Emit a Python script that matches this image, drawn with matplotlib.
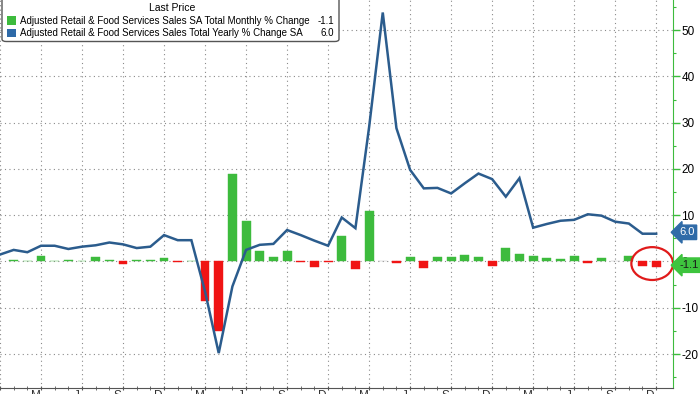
import numpy as np
import matplotlib.pyplot as plt
from matplotlib.patches import Ellipse, FancyBboxPatch, Rectangle
from matplotlib.transforms import ScaledTranslation

# monthly data, Dec 2018 .. Dec 2022
months = ["Dec 18",
          "Jan 19", "Feb 19", "Mar 19", "Apr 19", "May 19", "Jun 19",
          "Jul 19", "Aug 19", "Sep 19", "Oct 19", "Nov 19", "Dec 19",
          "Jan 20", "Feb 20", "Mar 20", "Apr 20", "May 20", "Jun 20",
          "Jul 20", "Aug 20", "Sep 20", "Oct 20", "Nov 20", "Dec 20",
          "Jan 21", "Feb 21", "Mar 21", "Apr 21", "May 21", "Jun 21",
          "Jul 21", "Aug 21", "Sep 21", "Oct 21", "Nov 21", "Dec 21",
          "Jan 22", "Feb 22", "Mar 22", "Apr 22", "May 22", "Jun 22",
          "Jul 22", "Aug 22", "Sep 22", "Oct 22", "Nov 22", "Dec 22"]

# monthly % change, Jan 2019 .. Dec 2022
mom = [0.3, 0.2, 1.2, 0.1, 0.4, 0.1, 0.9, 0.4, -0.5, 0.3, 0.3, 0.7,
       -0.2, 0.1, -8.5, -15.0, 18.9, 8.8, 2.3, 1.0, 2.3, -0.2, -1.1, -0.2,
       5.5, -1.6, 11.0, 0.0, -0.4, 0.9, -1.4, 1.0, 1.0, 1.5, 0.9, -1.0,
       3.0, 1.6, 1.2, 0.8, 0.5, 1.1, -0.3, 0.7, 0.0, 1.2, -1.0, -1.1]

# yearly % change, Dec 2018 .. Dec 2022
yoy = [1.5,
       2.5, 2.0, 3.4, 3.4, 2.7, 3.2, 3.5, 4.1, 3.7, 2.9, 3.2, 5.7,
       4.6, 4.6, -6.5, -19.8, -5.4, 2.5, 3.6, 3.8, 6.8, 5.7, 4.5, 3.4,
       9.5, 7.2, 29.0, 53.8, 28.8, 19.8, 15.8, 15.9, 14.7, 16.9, 19.0, 17.8,
       14.0, 18.0, 7.3, 8.1, 8.8, 9.0, 10.2, 9.9, 8.6, 8.2, 6.0, 6.0]

yticks = [-20, -10, 0, 10, 20, 30, 40, 50]
qtr_letters = {"Mar": "M", "Jun": "J", "Sep": "S", "Dec": "D"}

GREEN = "#3dbb3d"
RED = "#f01414"
BLUE = "#2b5c8d"

plt.rcParams['font.family'] = ['Liberation Sans', 'DejaVu Sans']

fig = plt.figure(figsize=(7, 3.94), dpi=100)
ax = fig.add_axes([0.0, 0.0145, 0.9614, 0.9855])

x = np.arange(len(months))
xb = x[1:]
cols = [GREEN if v > 0 else (RED if v < 0 else "#bbbbbb") for v in mom]
ax.bar(xb, mom, width=0.65, color=cols, edgecolor=cols, linewidth=0.3, zorder=3)
ax.plot(x, yoy, color=BLUE, lw=1.8, zorder=4, solid_joinstyle="miter")

ax.set_xlim(0.36, 49.23)
ax.set_ylim(-27.4, 56.5)

# quarterly grid + letters
qpos = [i for i, m in enumerate(months) if m[:3] in qtr_letters]
ax.set_xticks(qpos)
ax.set_xticklabels([qtr_letters[months[i][:3]] for i in qpos], fontsize=8.5, color="#333333")
ax.set_xticks(x, minor=True)
ax.tick_params(axis="x", which="both", length=3, direction="inout", pad=0, color="#555555")
shift = ScaledTranslation(-4 / 72, 0, fig.dpi_scale_trans)
for lab in ax.get_xticklabels():
    lab.set_transform(lab.get_transform() + shift)

ax.yaxis.tick_right()
ax.set_yticks(yticks)
ax.set_yticklabels([str(t) for t in yticks], fontsize=8.5)
ax.set_yticks(np.arange(-25, 56, 5), minor=True)
ax.tick_params(axis="y", which="major", length=5, width=1, color=GREEN, pad=1)
ax.tick_params(axis="y", which="minor", length=2.5, width=0.8, color=GREEN)

ax.grid(True, which="major", linestyle=(0, (1, 3)), color="#8a8a8a", lw=0.8, zorder=0)

for s in ["top", "left"]:
    ax.spines[s].set_visible(False)
ax.spines["right"].set_color(GREEN)
ax.spines["bottom"].set_color("#555555")

# last-value tags on the right
ax.text(1.009, yoy[-1] + 0.3, "%.1f" % yoy[-1], transform=ax.get_yaxis_transform(),
        fontsize=8, color="white", va="center", ha="left", clip_on=False, zorder=10,
        bbox=dict(boxstyle="larrow,pad=0.2", fc="#2f6ba8", ec="#2f6ba8"))
ax.text(1.009, mom[-1] + 0.3, "%.1f" % mom[-1], transform=ax.get_yaxis_transform(),
        fontsize=8, color="#1a1a1a", va="center", ha="left", clip_on=False, zorder=10,
        bbox=dict(boxstyle="larrow,pad=0.2", fc="#3ec43e", ec="#3ec43e"))

# red circle around the last two bars
ax.add_patch(Ellipse((x[-1] - 0.29, (mom[-1] + mom[-2]) / 2 + 0.6), 3.05, 7.1,
                     fill=False, ec="#e01a1a", lw=1.6, zorder=6))

# legend box
W, H = 700.0, 394.0
box = FancyBboxPatch((2 / W, 1 - 41.5 / H), 337 / W, 48 / H, transform=fig.transFigure,
                     boxstyle="round,pad=0,rounding_size=0.006", fc="white", ec="#555555",
                     lw=1.0, zorder=20)
fig.patches.append(box)
fig.text(172 / W, 1 - 8 / H, "Last Price", ha="center", va="center", fontsize=7.5, zorder=21)
leg = [("Adjusted Retail & Food Services Sales SA Total Monthly % Change", mom[-1], GREEN),
       ("Adjusted Retail & Food Services Sales Total Yearly % Change SA", yoy[-1], "#2e6aa8")]
for k, (lab, val, c) in enumerate(leg):
    yc = 1 - (20.5 + 12.5 * k) / H
    fig.patches.append(Rectangle((7 / W, yc - 4 / H), 8.5 / W, 8.5 / H, transform=fig.transFigure,
                                 fc=c, ec="none", zorder=21))
    fig.text(20 / W, yc, lab, ha="left", va="center", fontsize=7, zorder=21)
    fig.text(334 / W, yc, "%.1f" % val, ha="right", va="center", fontsize=7, zorder=21)

fig.savefig("out.png", dpi=100)
